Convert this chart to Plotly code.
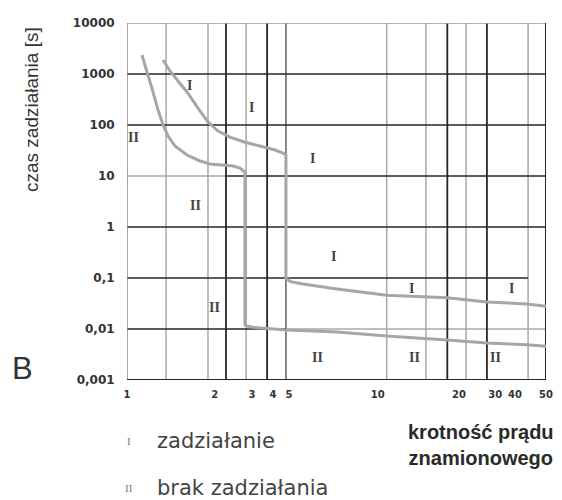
import math
import plotly.graph_objects as go

# ---------------- data ----------------
# curve I  (upper curve: boundary of "zadziałanie" – tripping)
trip_x = [1.40, 1.494, 1.61, 1.751, 1.941, 2.131, 2.339, 2.617, 3.009, 3.462, 3.983, 4.291, 4.41,
          4.41, 4.60, 5.17, 7.11, 11.3, 19.9, 28.8, 41.9, 50.0]
trip_t = [1882, 1145, 729, 444, 215, 114, 76, 58, 46, 38.7, 32.3, 28.2, 25.8,
          0.10, 0.085, 0.076, 0.061, 0.046, 0.041, 0.034, 0.031, 0.028]

# curve II (lower curve: boundary of "brak zadziałania" – no tripping)
notrip_x = [1.15, 1.205, 1.275, 1.336, 1.40, 1.467, 1.565, 1.751, 1.977, 2.171, 2.428, 2.691, 2.872, 3.009,
            3.009, 3.10, 3.24, 3.56, 4.45, 7.11, 11.3, 19.9, 28.8, 41.9, 50.0]
notrip_t = [2358, 1046, 444, 197, 100, 60.8, 38.7, 25.8, 19.7, 17.2, 16.4, 15.7, 14.3, 12.0,
            0.012, 0.0113, 0.0108, 0.0104, 0.0096, 0.0087, 0.0073, 0.0061, 0.0053, 0.0049, 0.0046]

# axis ticks
x_tick_vals = [1, 2.27, 3.21, 3.91, 4.54, 10.4, 22.2, 31.1, 37.4, 50]
x_tick_text = ["1", "2", "3", "4", "5", "10", "20", "30", "40", "50"]
y_tick_vals = [10000, 1000, 100, 10, 1, 0.1, 0.01, 0.001]
y_tick_text = ["10000", "1000", "100", "10", "1", "0,1", "0,01", "0,001"]

# grid lines of the scanned sheet
grid_x_dark = [2.52, 3.70, 19.9, 28.8]
grid_x_mid = [4.41]
grid_x_light = [1.44, 2.13, 3.04, 11.3, 16.3, 23.7, 42.3]
grid_y_dark = [1000, 100, 1]

# region labels: (text, multiple, time)
region_labels = [
    ("II", 1.06, 58), ("I", 1.80, 608), ("I", 3.21, 225), ("I", 5.63, 22.5),
    ("II", 1.89, 2.7), ("I", 6.85, 0.27), ("II", 2.27, 0.027),
    ("I", 14.3, 0.061), ("I", 36.1, 0.061),
    ("II", 5.9, 0.0028), ("II", 14.7, 0.0028), ("II", 31.1, 0.0028),
]

X_MIN, X_MAX = 1, 50
Y_MIN, Y_MAX = 0.001, 10000

DARK = "#262626"
LIGHT = "#a8a8a8"
CURVE = "#a6a6a6"

fig = go.Figure()


def add_lines(segments, color, width, dash="solid"):
    xs, ys = [], []
    for (x0, y0, x1, y1) in segments:
        xs += [x0, x1, None]
        ys += [y0, y1, None]
    fig.add_trace(go.Scatter(x=xs, y=ys, mode="lines", showlegend=False, hoverinfo="skip",
                             line=dict(color=color, width=width, dash=dash)))


# light grid
add_lines([(v, Y_MIN, v, Y_MAX) for v in grid_x_light], LIGHT, 1.5)
add_lines([(X_MIN, 10, 2.52, 10), (4.41, 0.01, X_MAX, 0.01)], LIGHT, 1.5)
# mid grid
add_lines([(v, Y_MIN, v, Y_MAX) for v in grid_x_mid], "#6a6a6a", 1.6)
# dark grid
add_lines([(v, Y_MIN, v, Y_MAX) for v in grid_x_dark], DARK, 1.8)
add_lines([(X_MIN, v, X_MAX, v) for v in grid_y_dark]
          + [(2.52, 10, X_MAX, 10), (X_MIN, 0.1, 42.3, 0.1), (X_MIN, 0.01, 4.41, 0.01)], DARK, 1.6)

# frame
add_lines([(X_MIN, Y_MIN, X_MIN, Y_MAX)], "#8a8a8a", 1.5)
add_lines([(X_MIN, Y_MAX, X_MAX, Y_MAX)], "#9a9a9a", 1.5)
add_lines([(X_MAX, Y_MIN, X_MAX, Y_MAX), (X_MIN, Y_MIN, X_MAX, Y_MIN)], DARK, 2)

# characteristic curves
fig.add_trace(go.Scatter(x=trip_x, y=trip_t, mode="lines", name="zadziałanie", showlegend=False,
                         line=dict(color=CURVE, width=3)))
fig.add_trace(go.Scatter(x=notrip_x, y=notrip_t, mode="lines", name="brak zadziałania", showlegend=False,
                         line=dict(color=CURVE, width=3)))

annotations = []
for txt, xv, tv in region_labels:
    annotations.append(dict(x=math.log10(xv), y=math.log10(tv), xref="x", yref="y", text=txt,
                            showarrow=False, xanchor="center", yanchor="middle",
                            font=dict(family="Liberation Serif", size=14, color="#444444", weight="bold")))

# pixel-placed annotations (x from left, y from bottom of the window image)
px_ann = []
px_ann.append(dict(x=31, y=390, text="czas zadziałania [s]", textangle=-90,
                   font=dict(family="Liberation Sans, Arial", size=19, color="#333333")))
px_ann.append(dict(x=22, y=132, text="B",
                   font=dict(family="Liberation Sans, Arial", size=31, color="#333333")))
px_ann.append(dict(x=129, y=59, text="I",
                   font=dict(family="Liberation Serif", size=11, color="#777777")))
px_ann.append(dict(x=155, y=59, text="zadziałanie", xanchor="left",
                   font=dict(family="DejaVu Sans", size=21, color="#444444")))
px_ann.append(dict(x=129, y=12, text="II",
                   font=dict(family="Liberation Serif", size=11, color="#777777")))
px_ann.append(dict(x=155, y=12, text="brak zadziałania", xanchor="left",
                   font=dict(family="DejaVu Sans", size=21, color="#444444")))
px_ann.append(dict(x=481, y=55, text="krotność prądu<br>znamionowego", align="center",
                   font=dict(family="Liberation Sans, Arial", size=20, color="#2a2a2a", weight="bold")))

# the page body has an 8px margin: shrink the figure so the plot lands where the reference has it
BODY = 8
W, H = 562 - BODY, 500 - BODY
PL, PR, PT, PB = 127 - BODY, 16, 23 - BODY, 120
pw, ph = W - PL - PR, H - PT - PB
for a in px_ann:
    a["x"] = (a["x"] - BODY - PL) / pw
    a["y"] = (a["y"] - PB) / ph
    a["xref"] = "paper"
    a["yref"] = "paper"
    a["showarrow"] = False
    a.setdefault("xanchor", "center")
    a.setdefault("yanchor", "middle")
    annotations.append(a)

fig.update_layout(
    width=W, height=H, autosize=False,
    margin=dict(l=PL, r=PR, t=PT, b=PB, pad=0, autoexpand=False),
    plot_bgcolor="white", paper_bgcolor="white",
    showlegend=False,
    annotations=annotations,
    xaxis=dict(type="log", range=[math.log10(X_MIN), math.log10(X_MAX)], automargin=False,
               tickvals=x_tick_vals, ticktext=x_tick_text,
               showgrid=False, zeroline=False, showline=False,
               ticks="outside", ticklen=5, tickcolor="rgba(0,0,0,0)",
               tickfont=dict(family="DejaVu Sans", size=10, color="#333333", weight="bold")),
    yaxis=dict(type="log", range=[math.log10(Y_MIN), math.log10(Y_MAX)], automargin=False,
               tickvals=y_tick_vals, ticktext=y_tick_text,
               showgrid=False, zeroline=False, showline=False,
               ticks="outside", ticklen=9, tickcolor="rgba(0,0,0,0)",
               tickfont=dict(family="DejaVu Sans", size=12, color="#333333", weight="bold")),
)

fig.write_html("out.html")
